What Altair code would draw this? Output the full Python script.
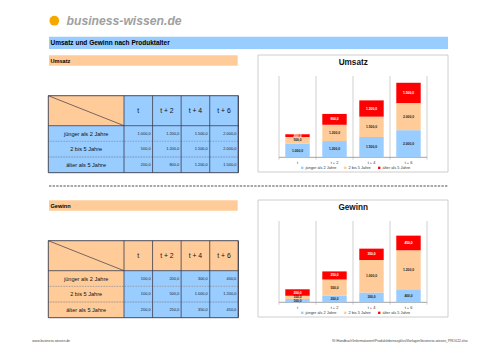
import altair as alt
import pandas as pd

# ---------------- data ----------------
periods = ["t", "t + 2", "t + 4", "t + 6"]
ages = ["jünger als 2 Jahre", "2 bis 5 Jahre", "älter als 5 Jahre"]

umsatz_young = [1000, 1200, 1500, 2000]
umsatz_mid = [500, 1200, 1500, 2000]
umsatz_old = [200, 800, 1200, 1500]

gewinn_young = [100, 200, 300, 400]
gewinn_mid = [100, 500, 1000, 1200]
gewinn_old = [200, 250, 350, 450]

section_titles = ["Umsatz", "Gewinn"]
y_max = [6000, 2500]
page_title = "Umsatz und Gewinn nach Produktalter"
logo_text = "business-wissen.de"
footer_left = "www.business-wissen.de"
footer_right = "N:\\Handbuch\\Informationen\\Produktlebenszyklus\\Vorlagen\\business-wissen_PRO022.xlsx"

# ---------------- style ----------------
FONT = "Liberation Sans"
BLUE = "#99CCFF"
ORANGE = "#FFCC99"
RED = "#FF0000"
LINE = "#3a3a4a"
GRID = "#c4c4c4"

one = pd.DataFrame({"d": [0]})


def de(v):
    s = f"{v:,.1f}"
    return s.replace(",", "_").replace(".", ",").replace("_", ".")


def long_df(young, mid, old):
    rows = []
    for i, p in enumerate(periods):
        for k, vals in enumerate([young, mid, old]):
            rows.append(dict(period=p, age=ages[k], rank=k, value=vals[i], label=de(vals[i])))
    return pd.DataFrame(rows)


def box(x, x2, y, y2, **kw):
    return alt.Chart(one).mark_rect(**kw).encode(
        x=alt.value(x), x2=alt.value(x2), y=alt.value(y), y2=alt.value(y2))


def rule(x, x2, y, y2, **kw):
    return alt.Chart(one).mark_rule(**kw).encode(
        x=alt.value(x), x2=alt.value(x2), y=alt.value(y), y2=alt.value(y2))


def label(txt, x, y, **kw):
    base = dict(font=FONT, baseline="middle", align="left", color="#000000")
    base.update(kw)
    return alt.Chart(one).mark_text(text=txt, **base).encode(x=alt.value(x), y=alt.value(y))


layers = []

# logo + page header
layers.append(alt.Chart(one).mark_circle(size=95, color="#F5A800", opacity=1).encode(
    x=alt.value(54.3), y=alt.value(20.7)))
layers.append(label(logo_text, 66.5, 21, fontSize=12.2, fontWeight="bold", fontStyle="italic",
                    color="#a0a0a0"))
layers.append(box(49, 448, 36.7, 49, fill=BLUE))
layers.append(label(page_title, 50.5, 43, fontSize=6.5, fontWeight="bold"))

# dashed separator
layers.append(rule(49, 448, 186, 186, color=LINE, strokeWidth=0.9, strokeDash=[2.4, 1.2]))

# footer
layers.append(label(footer_left, 32.3, 341, fontSize=3.4, color="#444444"))
layers.append(label(footer_right, 467.7, 341, fontSize=3.4, color="#444444", align="right"))

sections = [
    (section_titles[0], long_df(umsatz_young, umsatz_mid, umsatz_old), y_max[0], 0, BLUE),
    (section_titles[1], long_df(gewinn_young, gewinn_mid, gewinn_old), y_max[1], 145, ORANGE),
]

for title, df, ymax, off, hdr in sections:
    # section band
    layers.append(box(49, 237.7, 55.3 + off, 65.7 + off, fill=ORANGE))
    layers.append(label(title, 50.5, 60.6 + off, fontSize=5.6, fontWeight="bold"))

    # ---------- table ----------
    t_top, t_hdr, t_bot = 95.7 + off, 125.7 + off, 172.7 + off
    t_left, t_mid, t_right = 48.3, 124, 238.3
    cell_w = (t_right - t_mid) / len(periods)
    colx = alt.X("period:N", sort=periods, axis=None,
                 scale=alt.Scale(range=[t_mid, t_right], paddingInner=0, paddingOuter=0))
    rowy = alt.Y("age:N", sort=ages, axis=None,
                 scale=alt.Scale(range=[t_hdr, t_bot], paddingInner=0, paddingOuter=0))
    per_df = pd.DataFrame({"period": periods})
    age_df = pd.DataFrame({"age": ages})

    layers.append(box(t_left, t_mid, t_top, t_hdr, fill=ORANGE))
    layers.append(alt.Chart(per_df).mark_rect(fill=hdr).encode(
        x=colx, y=alt.value(t_top), y2=alt.value(t_hdr)))
    layers.append(alt.Chart(age_df).mark_rect(fill=hdr).encode(
        x=alt.value(t_left), x2=alt.value(t_mid), y=rowy))
    layers.append(alt.Chart(df).mark_rect(fill=BLUE).encode(x=colx, y=rowy))

    layers.append(alt.Chart(per_df).mark_text(font=FONT, fontSize=6.8, color="#111111",
                                              baseline="middle").encode(
        x=colx, y=alt.value((t_top + t_hdr) / 2), text="period:N"))
    layers.append(alt.Chart(age_df).mark_text(font=FONT, fontSize=5.6, color="#111111",
                                              baseline="middle").encode(
        x=alt.value((t_left + t_mid) / 2), y=rowy, text="age:N"))
    layers.append(alt.Chart(df).mark_text(font=FONT, fontSize=3.9, color="#222222",
                                          baseline="middle", align="right",
                                          dx=cell_w / 2 - 2).encode(
        x=colx, y=rowy, text="label:N"))

    # table lines
    col_b = pd.DataFrame({"k": list(range(len(periods) + 1))})
    row_b = pd.DataFrame({"k": list(range(1, len(ages)))})
    layers.append(alt.Chart(row_b).mark_rule(color="#555566", strokeWidth=0.6, strokeDash=[0.8, 0.8]).encode(
        y=alt.Y("k:Q", axis=None, scale=alt.Scale(domain=[0, len(ages)], range=[t_hdr, t_bot],
                                                  nice=False, zero=False)),
        x=alt.value(t_left), x2=alt.value(t_right)))
    layers.append(alt.Chart(col_b).mark_rule(color=LINE, strokeWidth=0.8).encode(
        x=alt.X("k:Q", axis=None, scale=alt.Scale(domain=[0, len(periods)], range=[t_mid, t_right],
                                                  nice=False, zero=False)),
        y=alt.value(t_top), y2=alt.value(t_bot)))
    layers.append(rule(t_left, t_right, t_hdr, t_hdr, color=LINE, strokeWidth=0.8))
    layers.append(rule(t_left, t_mid, t_top, t_hdr, color=LINE, strokeWidth=0.7))
    layers.append(box(t_left, t_right, t_top, t_bot, fillOpacity=0, stroke=LINE, strokeWidth=0.9))

    # ---------- chart ----------
    base_y, top_y = 157.3 + off, 76 + off
    p_left, p_right = 279, 427
    layers.append(box(258, 448, 55 + off, 172 + off, fill="white", stroke="#c8c8c8", strokeWidth=0.9))
    layers.append(label(title, 353.2, 63.3 + off, fontSize=8.2, fontWeight="bold", align="center",
                        color="#111111"))

    layers.append(alt.Chart(col_b).mark_rule(color=GRID, strokeWidth=0.8).encode(
        x=alt.X("k:Q", axis=None, scale=alt.Scale(domain=[0, len(periods)], range=[p_left, p_right],
                                                  nice=False, zero=False)),
        y=alt.value(top_y), y2=alt.value(base_y + 2.4)))
    layers.append(rule(p_left, p_right, base_y, base_y, color="#9a9a9a", strokeWidth=0.9))

    bx = alt.X("period:N", sort=periods, axis=None,
               scale=alt.Scale(range=[p_left, p_right], paddingInner=0.34, paddingOuter=0.17))
    yscale = alt.Scale(domain=[0, ymax], range=[base_y, top_y], nice=False, zero=True)

    layers.append(alt.Chart(df).mark_bar().encode(
        x=bx,
        y=alt.Y("value:Q", stack="zero", axis=None, scale=yscale),
        color=alt.Color("age:N", sort=ages,
                        scale=alt.Scale(domain=ages, range=[BLUE, ORANGE, RED]),
                        legend=alt.Legend(orient="none", legendX=300.3, legendY=165.8 + off,
                                          direction="horizontal", title=None, symbolType="square",
                                          symbolSize=5.5, symbolStrokeWidth=0, labelFontSize=3.9,
                                          labelFont=FONT, labelColor="#333333", columnPadding=6,
                                          labelOffset=1.3, padding=0, rowPadding=0)),
        order=alt.Order("rank:Q", sort="ascending"),
    ))

    layers.append(alt.Chart(df).transform_stack(
        stack="value", groupby=["period"], as_=["v0", "v1"],
        sort=[alt.SortField("rank", order="ascending")]
    ).transform_calculate(mid="(datum.v0 + datum.v1) / 2").mark_text(
        font=FONT, fontSize=3.3, fontWeight="bold", baseline="middle").encode(
        x=bx,
        y=alt.Y("mid:Q", axis=None, scale=yscale),
        text="label:N",
        color=alt.condition(alt.datum.rank == 2, alt.value("white"), alt.value("#1a1a1a")),
    ))

    layers.append(alt.Chart(per_df).mark_text(font=FONT, fontSize=3.9, color="#333333",
                                              baseline="middle").encode(
        x=bx, y=alt.value(162.7 + off), text="period:N"))

chart = alt.layer(*layers).resolve_scale(
    x="independent", y="independent", color="independent"
).properties(
    width=500, height=354, padding=0, autosize="none", background="white"
).configure_view(strokeWidth=0)

chart.save("out.html", embed_options={"renderer": "svg", "actions": False})
